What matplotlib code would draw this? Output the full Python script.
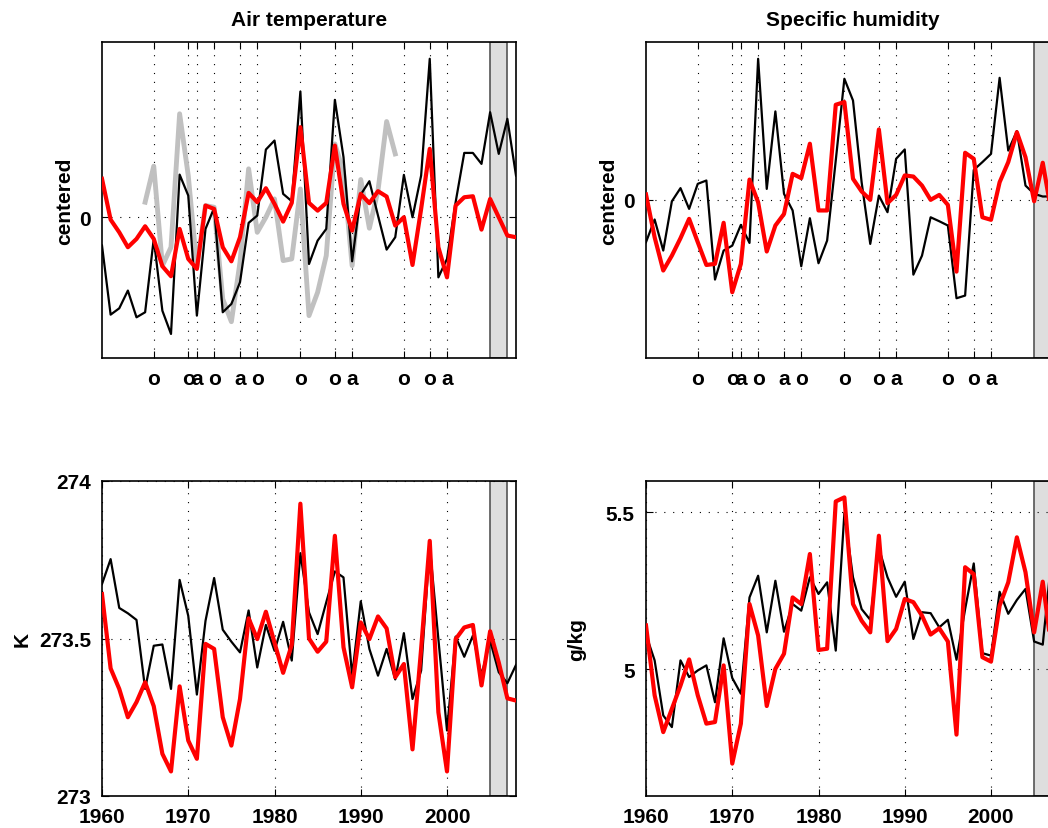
import numpy as np
import matplotlib
matplotlib.use('Agg')
import matplotlib.pyplot as plt

plt.rcParams['font.family'] = ['Liberation Sans', 'DejaVu Sans']
plt.rcParams['font.weight'] = 'bold'
plt.rcParams['axes.labelweight'] = 'bold'
plt.rcParams['axes.titleweight'] = 'bold'

years = list(range(1960, 2009))

# events: o / a years shown under the top panels
event_years = [1966, 1970, 1971, 1973, 1976, 1978, 1983, 1987, 1989, 1995, 1998, 2000]
event_labels = ['o', 'o', 'a', 'o', 'a', 'o', 'o', 'o', 'a', 'o', 'o', 'a']

# air temperature, centered
t_cent_black = [-0.201, -0.692, -0.647, -0.521, -0.711, -0.675, -0.154, -0.664, -0.829, 0.303,
                0.154, -0.699, -0.083, 0.066, -0.675, -0.616, -0.462, -0.040, 0.012, 0.481,
                0.545, 0.166, 0.114, 0.893, -0.332, -0.166, -0.083, 0.834, 0.427, -0.313,
                0.161, 0.256, 0.012, -0.230, -0.142, 0.301, 0.0, 0.296, 1.126, -0.427,
                -0.296, 0.107, 0.457, 0.457, 0.379, 0.746, 0.450, 0.699, 0.296]
t_cent_red = [0.273, -0.017, -0.107, -0.213, -0.154, -0.064, -0.154, -0.348, -0.419, -0.083,
              -0.296, -0.367, 0.083, 0.059, -0.213, -0.313, -0.142, 0.173, 0.107, 0.206,
              0.095, -0.031, 0.102, 0.640, 0.102, 0.047, 0.102, 0.509, 0.095, -0.095,
              0.166, 0.100, 0.185, 0.147, -0.059, 0.0, -0.339, 0.059, 0.486, -0.213,
              -0.427, 0.083, 0.142, 0.149, -0.088, 0.130, 0.0, -0.130, -0.142]
grey_years = list(range(1965, 1995))
t_cent_grey = [0.107, 0.363, -0.344, -0.213, 0.735, 0.296, -0.355, 0.083, 0.071, -0.581,
               -0.742, -0.320, 0.344, -0.107, 0.0, 0.130, -0.308, -0.296, 0.201, -0.699,
               -0.533, -0.273, 0.521, 0.320, -0.344, 0.268, -0.078, 0.190, 0.680, 0.450]

# specific humidity, centered
q_cent_black = [-0.269, -0.126, -0.322, -0.011, 0.072, -0.059, 0.099, 0.120, -0.505, -0.322,
                -0.291, -0.160, -0.274, 0.888, 0.067, 0.556, 0.036, -0.069, -0.421, -0.118,
                -0.402, -0.259, 0.246, 0.762, 0.625, 0.109, -0.280, 0.025, -0.080, 0.257,
                0.316, -0.474, -0.354, -0.112, -0.137, -0.164, -0.623, -0.606, 0.187, 0.236,
                0.288, 0.768, 0.309, 0.432, 0.088, 0.036, 0.019, 0.02, 0.05]
q_cent_red = [0.032, -0.238, -0.448, -0.354, -0.244, -0.122, -0.269, -0.413, -0.406, -0.147,
              -0.585, -0.406, 0.126, -0.017, -0.328, -0.164, -0.091, 0.162, 0.135, 0.352,
              -0.069, -0.069, 0.598, 0.615, 0.131, 0.051, -0.002, 0.442, -0.023, 0.029,
              0.152, 0.145, 0.088, -0.002, 0.029, -0.034, -0.455, 0.295, 0.257, -0.112,
              -0.128, 0.109, 0.236, 0.425, 0.267, -0.011, 0.232, -0.08, 0.0]

# air temperature, K
t_black = [273.673, 273.752, 273.597, 273.580, 273.559, 273.340, 273.477, 273.481, 273.340, 273.686,
           273.572, 273.322, 273.556, 273.692, 273.528, 273.490, 273.456, 273.589, 273.408, 273.543,
           273.461, 273.553, 273.430, 273.771, 273.583, 273.514, 273.615, 273.713, 273.694, 273.382,
           273.618, 273.467, 273.382, 273.467, 273.370, 273.517, 273.308, 273.398, 273.794, 273.498,
           273.208, 273.506, 273.442, 273.509, 273.384, 273.493, 273.393, 273.358, 273.416]
t_red = [273.641, 273.405, 273.340, 273.250, 273.298, 273.361, 273.285, 273.134, 273.078, 273.348,
         273.176, 273.118, 273.483, 273.467, 273.250, 273.160, 273.308, 273.564, 273.498, 273.585,
         273.487, 273.391, 273.480, 273.928, 273.500, 273.458, 273.490, 273.826, 273.472, 273.345,
         273.551, 273.498, 273.570, 273.532, 273.377, 273.419, 273.148, 273.467, 273.810, 273.266,
         273.078, 273.498, 273.535, 273.543, 273.351, 273.523, 273.424, 273.310, 273.303]

# specific humidity, g/kg
q_black = [5.111, 5.029, 4.854, 4.817, 5.029, 4.976, 4.997, 5.013, 4.896, 5.099,
           4.973, 4.923, 5.229, 5.298, 5.118, 5.282, 5.120, 5.208, 5.187, 5.293,
           5.240, 5.277, 5.060, 5.497, 5.293, 5.192, 5.158, 5.386, 5.293, 5.231,
           5.279, 5.097, 5.182, 5.179, 5.134, 5.158, 5.031, 5.192, 5.337, 5.052,
           5.044, 5.247, 5.177, 5.221, 5.256, 5.089, 5.079, 5.35, 5.25]
q_red = [5.140, 4.918, 4.801, 4.875, 4.949, 5.032, 4.918, 4.828, 4.833, 5.013,
         4.701, 4.828, 5.208, 5.108, 4.884, 5.002, 5.050, 5.229, 5.208, 5.367,
         5.062, 5.066, 5.534, 5.547, 5.208, 5.155, 5.118, 5.425, 5.090, 5.129,
         5.224, 5.214, 5.171, 5.111, 5.131, 5.089, 4.793, 5.325, 5.303, 5.039,
         5.025, 5.203, 5.277, 5.420, 5.309, 5.118, 5.279, 5.07, 5.15]

fig = plt.figure(figsize=(10.48, 8.29), dpi=100)
W, H = 1048.0, 829.0

def make_ax(left, top, bottom):
    return fig.add_axes([left / W, 1 - bottom / H, 414 / W, (bottom - top) / H])

ax_tl = make_ax(102, 43, 359)
ax_tr = make_ax(646, 43, 359)
ax_bl = make_ax(102, 482, 797)
ax_br = make_ax(646, 482, 797)

dotted = (0, (1, 7))

def style(ax):
    ax.set_xlim(1960, 2008)
    ax.axvspan(2005, 2007, facecolor='#dedede', edgecolor='#555555', lw=1.2, zorder=1)
    ax.tick_params(direction='in', length=5, width=0.8, top=True, right=True,
                   labelsize=15, pad=8)
    ax.grid(True, linestyle=dotted, color='k', lw=0.8)
    for s in ax.spines.values():
        s.set_linewidth(1.2)

for ax in (ax_tl, ax_tr):
    style(ax)
    ax.set_xticks(event_years)
    ax.set_xticklabels(event_labels)
    ax.set_yticks([0])
    ax.set_ylabel('centered', fontsize=15, labelpad=4)

for ax in (ax_bl, ax_br):
    style(ax)
    ax.set_xticks([1960, 1970, 1980, 1990, 2000])

ax_tl.plot(grey_years, t_cent_grey, color='#c0c0c0', lw=3.5, zorder=2)
ax_tl.plot(years, t_cent_black, color='k', lw=1.6, zorder=3)
ax_tl.plot(years, t_cent_red, color='#ff0000', lw=3, zorder=4)
ax_tl.set_ylim(-1.0, 1.245)
ax_tl.set_title('Air temperature', fontsize=15, pad=12)

ax_tr.plot(years, q_cent_black, color='k', lw=1.6, zorder=3)
ax_tr.plot(years, q_cent_red, color='#ff0000', lw=3, zorder=4)
ax_tr.set_ylim(-1.0, 0.994)
ax_tr.set_title('Specific humidity', fontsize=15, pad=12)

ax_bl.plot(years, t_black, color='k', lw=1.6, zorder=3)
ax_bl.plot(years, t_red, color='#ff0000', lw=3, zorder=4)
ax_bl.set_ylim(273, 274)
ax_bl.set_yticks([273, 273.5, 274])
ax_bl.set_yticklabels(['273', '273.5', '274'])
ax_bl.set_ylabel('K', fontsize=15, labelpad=5)

ax_br.plot(years, q_black, color='k', lw=1.6, zorder=3)
ax_br.plot(years, q_red, color='#ff0000', lw=3, zorder=4)
ax_br.set_ylim(4.598, 5.599)
ax_br.set_yticks([5, 5.5])
ax_br.set_yticklabels(['5', '5.5'])
ax_br.set_ylabel('g/kg', fontsize=15, labelpad=14)

fig.savefig('out.png', dpi=100)
